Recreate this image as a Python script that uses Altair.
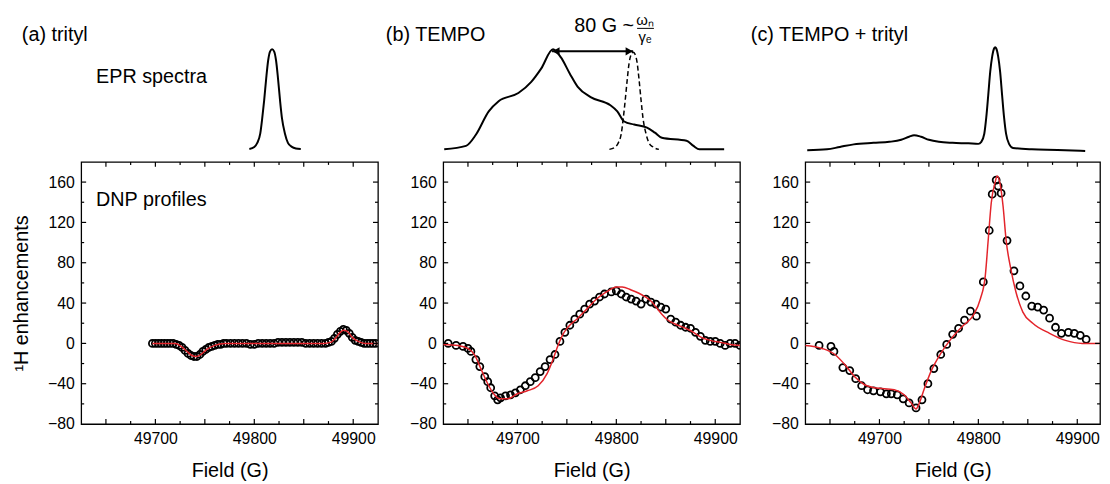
import altair as alt
import pandas as pd

FONT = "Liberation Sans"
RED = "#e3242b"
X_MIN = 49625

# ---------------- EPR spectra (normalised intensity) ----------------
epr_a_field = [49795, 49800, 49803, 49806, 49808, 49810, 49812, 49814, 49816, 49818,
               49820, 49822, 49824, 49826, 49828, 49831, 49834, 49838, 49842, 49847]
epr_a_value = [0.02, 0.04, 0.08, 0.17, 0.32, 0.5, 0.71, 0.89, 0.98, 1.0,
               0.98, 0.89, 0.71, 0.5, 0.32, 0.17, 0.08, 0.04, 0.025, 0.02]

epr_b_field = [49626, 49648, 49658, 49671, 49681, 49701, 49714, 49724, 49736, 49744,
               49753, 49761, 49774, 49794, 49801, 49808, 49818, 49831, 49839, 49846,
               49871, 49878, 49884, 49909]
epr_b_value = [0.016, 0.05, 0.16, 0.39, 0.49, 0.57, 0.68, 0.81, 1.0, 0.92,
               0.76, 0.63, 0.53, 0.45, 0.39, 0.29, 0.26, 0.23, 0.18, 0.13,
               0.10, 0.05, 0.016, 0.016]

epr_b_trityl_field = [49793, 49799, 49802, 49805, 49807, 49809, 49811, 49813, 49815, 49817,
                      49819, 49821, 49823, 49825, 49827, 49830, 49833, 49837, 49843]
epr_b_trityl_value = [0.016, 0.04, 0.08, 0.17, 0.32, 0.5, 0.7, 0.87, 0.95, 0.97,
                      0.95, 0.87, 0.7, 0.5, 0.32, 0.17, 0.08, 0.04, 0.016]

epr_c_field = [49627, 49647, 49660, 49674, 49694, 49710, 49722, 49730, 49735, 49742,
               49750, 49760, 49774, 49790, 49800, 49803, 49806, 49808, 49810, 49812,
               49814, 49816, 49817, 49818, 49820, 49822, 49824, 49826, 49828, 49831,
               49835, 49854, 49880, 49908]
epr_c_value = [0.007, 0.016, 0.04, 0.065, 0.08, 0.09, 0.11, 0.14, 0.155, 0.14,
               0.11, 0.09, 0.08, 0.075, 0.07, 0.09, 0.17, 0.33, 0.55, 0.78,
               0.93, 1.01, 1.02, 1.01, 0.93, 0.78, 0.55, 0.33, 0.17, 0.07,
               0.03, 0.016, 0.01, 0.0]

arrow_field = [49735, 49817]
arrow_level = [0.98, 0.98]

# ---------------- DNP profiles (1H enhancement) ----------------
dnp_a_field = [49697, 49700, 49703, 49706, 49709, 49712, 49715, 49718, 49721, 49724,
               49727, 49730, 49733, 49736, 49739, 49742, 49745, 49748, 49751, 49754,
               49757, 49760, 49763, 49766, 49769, 49772, 49776, 49780, 49784, 49788,
               49792, 49796, 49800, 49804, 49808, 49812, 49816, 49820, 49824, 49828,
               49832, 49836, 49840, 49844, 49848, 49852, 49856, 49860, 49864, 49868,
               49872, 49875, 49878, 49881, 49884, 49887, 49890, 49893, 49896, 49899,
               49902, 49905, 49908, 49911, 49914, 49917, 49920, 49923]
dnp_a_value = [0, 0, 0, 0, 0, 0, 0, 0, -1, -2,
               -4, -7, -10, -12, -13, -13, -11, -8, -6, -4,
               -3, -2, -1, -1, 0, 0, 0, 0, 0, 0,
               0, -1, -1, 0, 0, 0, 0, 0, 1, 1,
               1, 1, 1, 1, 1, 0, 0, 0, 0, 0,
               0, 1, 2, 5, 9, 12, 14, 13, 10, 6,
               3, 2, 1, 0, 0, 0, 0, 0]
fit_a_field = [49697, 49720, 49726, 49732, 49737, 49741, 49746, 49752, 49760, 49770,
               49800, 49870, 49877, 49882, 49886, 49890, 49894, 49899, 49905, 49912, 49925]
fit_a_value = [0, 0, -3, -8, -12, -13, -11, -6, -2, 0,
               0, 0, 1, 5, 10, 13, 12, 6, 2, 0, 0]

dnp_b_field = [49630, 49638, 49645, 49650, 49653, 49658, 49662, 49667, 49670, 49673,
               49677, 49680, 49683, 49688, 49693, 49698, 49703, 49708, 49713, 49718,
               49723, 49728, 49733, 49738, 49743, 49748, 49753, 49758, 49763, 49768,
               49773, 49778, 49783, 49788, 49795, 49800, 49805, 49810, 49815, 49820,
               49825, 49830, 49835, 49840, 49845, 49850, 49855, 49860, 49865, 49870,
               49875, 49880, 49885, 49890, 49895, 49900, 49905, 49910, 49915, 49920, 49925]
dnp_b_value = [0, -2, -3, -5, -8, -16, -23, -33, -38, -44,
               -52, -56, -54, -52, -51, -49, -46, -42, -38, -34,
               -28, -23, -16, -11, 2, 11, 18, 24, 29, 34,
               39, 42, 46, 49, 51, 52, 49, 46, 44, 42,
               39, 44, 41, 39, 36, 34, 24, 21, 18, 16,
               15, 11, 7, 3, 2, 2, 0, -2, 0, 0, -2]
fit_b_field = [49625, 49640, 49650, 49657, 49663, 49670, 49676, 49682, 49690, 49700,
               49710, 49721, 49730, 49736, 49741, 49746, 49751, 49761, 49771, 49780,
               49790, 49800, 49806, 49815, 49828, 49835, 49841, 49846, 49851, 49860,
               49870, 49878, 49886, 49895, 49905, 49915, 49925]
fit_b_value = [-1, -2, -5, -12, -25, -40, -50, -55, -55, -50,
               -47, -42, -30, -16, -2, 9, 16, 25, 35, 44,
               51, 56, 56, 53, 47, 42, 35, 29, 24, 19,
               15, 11, 6, 3, 1, -1, -2]

dnp_c_field = [49639, 49651, 49654, 49663, 49670, 49676, 49682, 49688, 49694, 49701,
               49707, 49712, 49718, 49724, 49730, 49737, 49743, 49749, 49755, 49762,
               49768, 49774, 49780, 49786, 49792, 49798, 49805, 49811, 49814, 49818,
               49820, 49823, 49829, 49836, 49842, 49848, 49854, 49860, 49866, 49872,
               49878, 49884, 49891, 49897, 49903, 49909]
dnp_c_value = [-2, -3, -8, -24, -27, -35, -42, -46, -47, -48,
               -50, -50, -51, -55, -59, -64, -56, -40, -25, -11,
               -1, 9, 15, 23, 32, 27, 61, 112, 148, 162,
               156, 149, 102, 72, 57, 47, 37, 36, 33, 25,
               16, 10, 11, 10, 8, 4]
fit_c_field = [49625, 49642, 49655, 49665, 49675, 49685, 49695, 49715, 49725, 49732,
               49737, 49740, 49745, 49752, 49762, 49772, 49785, 49795, 49802, 49807,
               49810, 49813, 49817, 49819, 49822, 49825, 49828, 49833, 49838, 49845,
               49855, 49872, 49888, 49905, 49925]
fit_c_value = [-2, -5, -11, -21, -33, -41, -44, -46, -51, -59,
               -65, -60, -46, -28, -10, 4, 18, 28, 44, 67,
               103, 139, 160, 166, 158, 136, 103, 73, 51, 31,
               20, 10, 3, 0, 0]

# ---------------- axes / ticks ----------------
x_label_values = [49700, 49800, 49900]
y_label_values = [-80, -40, 0, 40, 80, 120, 160]
x_tick_values = [49650, 49675, 49700, 49725, 49750, 49775, 49800, 49825, 49850, 49875, 49900]
y_tick_values = [-60, -40, -20, 0, 20, 40, 60, 80, 100, 120, 140, 160]

DNP_H = 265
EPR_H = 110
TXT = 20


def tick_layers(xscale, yscale, xaxis, yaxis, width):
    xt = pd.DataFrame({"v": x_tick_values})
    xt["len"] = [5 if v % 50 == 0 else 3 for v in x_tick_values]
    yt = pd.DataFrame({"v": y_tick_values})
    yt["len"] = [5 if v % 40 == 0 else 3 for v in y_tick_values]
    layers = []
    for L in (5, 3):
        xsub = xt[xt["len"] == L]
        ysub = yt[yt["len"] == L]
        base_x = alt.Chart(xsub).mark_rule(color="black", strokeWidth=1.2)
        base_y = alt.Chart(ysub).mark_rule(color="black", strokeWidth=1.2)
        xe = alt.X("v:Q", scale=xscale, axis=xaxis)
        ye = alt.Y("v:Q", scale=yscale, axis=yaxis)
        layers.append(base_x.encode(x=xe, y=alt.value(0), y2=alt.value(L)))
        layers.append(base_x.encode(x=xe, y=alt.value(DNP_H), y2=alt.value(DNP_H - L)))
        layers.append(base_y.encode(y=ye, x=alt.value(0), x2=alt.value(L)))
        layers.append(base_y.encode(y=ye, x=alt.value(width), x2=alt.value(width - L)))
    return layers


def dnp_panel(pf, pv, ff, fv, xmax, width, ytitle=None, note=None):
    xscale = alt.Scale(domain=[X_MIN, xmax], nice=False, zero=False)
    yscale = alt.Scale(domain=[-80, 180], nice=False, zero=False)
    xaxis = alt.Axis(values=x_label_values, format="d", ticks=False, tickSize=0,
                     domain=False, grid=False, labelPadding=7, title="Field (G)",
                     titlePadding=14)
    yaxis = alt.Axis(values=y_label_values, format="d", ticks=False, tickSize=0,
                     domain=False, grid=False, labelPadding=7, title=ytitle,
                     titlePadding=16)
    pts = pd.DataFrame({"field": pf, "enh": pv})
    fit = pd.DataFrame({"field": ff, "enh": fv})
    circles = alt.Chart(pts).mark_point(shape="circle", filled=False, color="black",
                                        size=50, strokeWidth=1.8, opacity=1, clip=True).encode(
        x=alt.X("field:Q", scale=xscale, axis=xaxis),
        y=alt.Y("enh:Q", scale=yscale, axis=yaxis),
    )
    line = alt.Chart(fit).mark_line(color=RED, strokeWidth=1.5, interpolate="monotone",
                                    clip=True).encode(
        x=alt.X("field:Q", scale=xscale, axis=xaxis),
        y=alt.Y("enh:Q", scale=yscale, axis=yaxis),
    )
    layers = [circles, line] + tick_layers(xscale, yscale, xaxis, yaxis, width)
    if note:
        layers.append(alt.Chart(pd.DataFrame({"t": [note]})).mark_text(
            align="left", baseline="middle", font=FONT, fontSize=TXT, color="black").encode(
            text="t:N", x=alt.value(15), y=alt.value(39)))
    return alt.layer(*layers).properties(width=width, height=DNP_H)


def epr_panel(curves, xmax, width, label, label_dx, extra=None):
    xscale = alt.Scale(domain=[X_MIN, xmax], nice=False, zero=False)
    yscale = alt.Scale(domain=[-0.02, 1.05], nice=False, zero=False)
    layers = []
    for f, v, dash in curves:
        df = pd.DataFrame({"field": f, "I": v})
        mk = dict(color="black", strokeWidth=2, interpolate="monotone")
        if dash:
            mk["strokeDash"] = [5, 3]
            mk["strokeWidth"] = 1.5
        layers.append(alt.Chart(df).mark_line(**mk).encode(
            x=alt.X("field:Q", scale=xscale, axis=None),
            y=alt.Y("I:Q", scale=yscale, axis=None)))
    layers.append(alt.Chart(pd.DataFrame({"t": [label]})).mark_text(
        align="left", baseline="middle", font=FONT, fontSize=TXT, color="black").encode(
        text="t:N", x=alt.value(label_dx), y=alt.value(-9)))
    if extra:
        layers += extra(xscale, yscale)
    return alt.layer(*layers).properties(
        width=width, height=EPR_H, view=alt.ViewBackground(strokeOpacity=0))


def epr_note(xscale, yscale):
    return [alt.Chart(pd.DataFrame({"t": ["EPR spectra"]})).mark_text(
        align="left", baseline="middle", font=FONT, fontSize=TXT, color="black").encode(
        text="t:N", x=alt.value(15), y=alt.value(33))]


def arrow(xscale, yscale):
    ad = pd.DataFrame({"field": arrow_field, "I": arrow_level})
    x = alt.X("field:Q", scale=xscale, axis=None)
    y = alt.Y("I:Q", scale=yscale, axis=None)
    shaft = alt.Chart(ad).mark_line(color="black", strokeWidth=2).encode(x=x, y=y)
    left = alt.Chart(ad.iloc[[0]]).mark_point(shape="triangle-left", filled=True, color="black",
                                               size=70, opacity=1, xOffset=4).encode(x=x, y=y)
    right = alt.Chart(ad.iloc[[1]]).mark_point(shape="triangle-right", filled=True, color="black",
                                                size=70, opacity=1, xOffset=-4).encode(x=x, y=y)
    txt = alt.Chart(pd.DataFrame({"t": ["80 G ~"]})).mark_text(
        align="right", baseline="middle", font=FONT, fontSize=TXT, color="black").encode(
        text="t:N", x=alt.value(193), y=alt.value(-18))
    num = alt.Chart(pd.DataFrame({"t": ["ω\u2099"]})).mark_text(
        align="center", baseline="middle", font=FONT, fontSize=15, color="black").encode(
        text="t:N", x=alt.value(204), y=alt.value(-24))
    bar = alt.Chart(pd.DataFrame({"t": [0]})).mark_rule(color="black", strokeWidth=1).encode(
        x=alt.value(196), x2=alt.value(213), y=alt.value(-16))
    den = alt.Chart(pd.DataFrame({"t": ["γ\u2091"]})).mark_text(
        align="center", baseline="middle", font=FONT, fontSize=15, color="black").encode(
        text="t:N", x=alt.value(204), y=alt.value(-7))
    return [shaft, left, right, txt, num, bar, den]


panels = [
    epr_panel([(epr_a_field, epr_a_value, False)], 49925, 300, "(a) trityl", -60, epr_note),
    epr_panel([(epr_b_field, epr_b_value, False), (epr_b_trityl_field, epr_b_trityl_value, True)],
              49925, 300, "(b) TEMPO", -58, arrow),
    epr_panel([(epr_c_field, epr_c_value, False)], 49923, 298, "(c) TEMPO + trityl", -55),
    dnp_panel(dnp_a_field, dnp_a_value, fit_a_field, fit_a_value, 49925, 300,
              ytitle="¹H enhancements", note="DNP profiles"),
    dnp_panel(dnp_b_field, dnp_b_value, fit_b_field, fit_b_value, 49925, 300),
    dnp_panel(dnp_c_field, dnp_c_value, fit_c_field, fit_c_value, 49923, 298),
]

chart = alt.concat(*panels, columns=3, spacing={"row": 9, "column": 66},
                   bounds="flush").properties(
    padding={"left": 3, "top": 3, "right": 0, "bottom": 0},
    background="white",
).configure_axis(
    labelFont=FONT, labelFontSize=16, labelColor="black",
    titleFont=FONT, titleFontSize=20, titleFontWeight="normal", titleColor="black",
).configure_view(stroke="black", strokeWidth=1.3)

chart.save("out.html", embed_options={"renderer": "svg", "actions": False})
